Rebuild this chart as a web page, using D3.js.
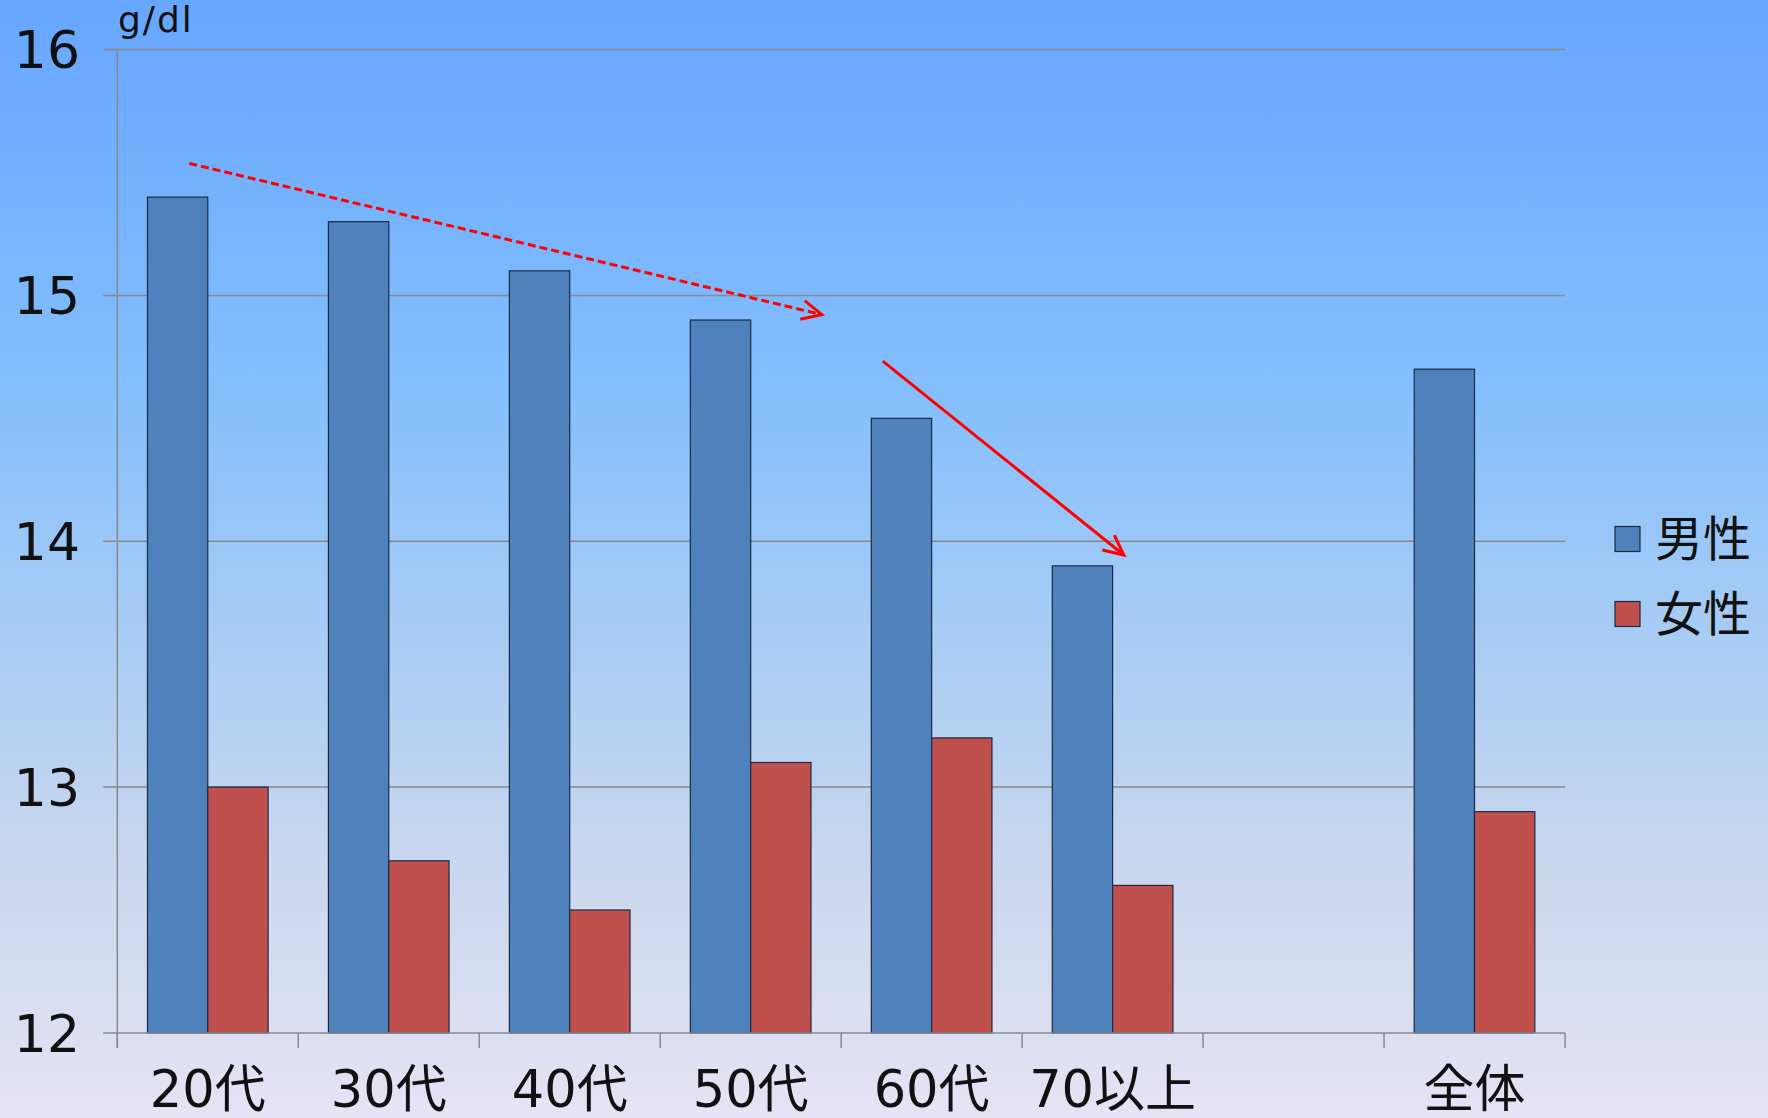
<!DOCTYPE html>
<html><head><meta charset="utf-8">
<script src="https://cdn.jsdelivr.net/npm/d3@7"></script>
<style>html,body{margin:0;padding:0;overflow:hidden;}svg{display:block;}</style>
</head><body>
<svg id="chart" width="1768" height="1118"></svg>
<script>
const categories = ["20代","30代","40代","50代","60代","70以上","","全体"];
const seriesNames = ["男性","女性"];
const maleValues   = [15.4, 15.3, 15.1, 14.9, 14.5, 13.9, null, 14.7];
const femaleValues = [13.0, 12.7, 12.5, 13.1, 13.2, 12.6, null, 12.9];
const yTicks = [12, 13, 14, 15, 16];
const unitLabel = "g/dl";
// annotation arrows in data units: [band index position, value]
const arrowDashed = [[0.398, 15.537], [3.893, 14.922]];
const arrowSolid  = [[4.23, 14.733], [5.562, 13.944]];

const colors = ["#4f81bd", "#c0504d"];
const font = "'DejaVu Sans','Noto Sans CJK JP',sans-serif";

const svg = d3.select("#chart");
const W = 1768, H = 1118;
const m = {left: 117.3, right: 1565, top: 49.6, bottom: 1032.9};

const defs = svg.append("defs");
const grad = defs.append("linearGradient").attr("id","bg").attr("x1",0).attr("y1",0).attr("x2",0).attr("y2",1);
[["0%","#66a6ff"],["35%","#84bffd"],["55%","#a5cbf5"],["75%","#c6d6ee"],["100%","#e6e3f4"]]
  .forEach(([o,c]) => grad.append("stop").attr("offset",o).attr("stop-color",c));
svg.append("rect").attr("width",W).attr("height",H).attr("fill","url(#bg)");

const x = d3.scaleBand().domain(d3.range(categories.length)).range([m.left, m.right]).padding(0);
const y = d3.scaleLinear().domain([12,16]).range([m.bottom, m.top]);
const xs = d3.scaleBand().domain([0,1]).range([0, x.bandwidth()]).paddingInner(0).paddingOuter(0.5);
const xPos = v => m.left + v * x.bandwidth();

// gridlines
svg.append("g").selectAll("line").data(yTicks.filter(t => t > 12)).join("line")
  .attr("x1", m.left - 14).attr("x2", m.right)
  .attr("y1", d => y(d)).attr("y2", d => y(d))
  .attr("stroke", "#8a8a8a").attr("stroke-width", 1.5);

// bars
const data = categories.map((c,i) => ({i, vals:[maleValues[i], femaleValues[i]]}));
const g = svg.append("g");
data.forEach(d => {
  d.vals.forEach((v,k) => {
    if (v == null) return;
    g.append("rect")
      .attr("x", x(d.i) + xs(k)).attr("width", xs.bandwidth())
      .attr("y", y(v)).attr("height", y(12) - y(v))
      .attr("fill", colors[k]).attr("stroke", "#1a2a40").attr("stroke-width", 1.2);
  });
});

// axes lines
svg.append("line").attr("x1", m.left).attr("x2", m.left).attr("y1", m.top).attr("y2", m.bottom + 15)
  .attr("stroke","#8a8a8a").attr("stroke-width",1.5);
svg.append("line").attr("x1", m.left - 14).attr("x2", m.right).attr("y1", m.bottom).attr("y2", m.bottom)
  .attr("stroke","#8a8a8a").attr("stroke-width",1.5);
svg.append("g").selectAll("line").data(d3.range(categories.length + 1)).join("line")
  .attr("x1", d => xPos(d)).attr("x2", d => xPos(d))
  .attr("y1", m.bottom).attr("y2", m.bottom + 15)
  .attr("stroke","#8a8a8a").attr("stroke-width",1.5);

// y labels
svg.append("g").selectAll("text").data(yTicks).join("text")
  .attr("x", 80).attr("y", d => y(d)).attr("dy","0.36em")
  .attr("text-anchor","end").attr("font-family",font).attr("font-size",52).attr("fill","#111")
  .text(d => d);

// x labels
svg.append("g").selectAll("text").data(categories).join("text")
  .attr("x", (d,i) => x(i) + x.bandwidth()/2).attr("y", 1107)
  .attr("text-anchor","middle").attr("font-family",font).attr("font-size",51).attr("fill","#111")
  .text(d => d);

// unit label
svg.append("text").attr("x", 118).attr("y", 32).attr("font-family",font).attr("font-size",36)
  .attr("letter-spacing",2).attr("fill","#111").text(unitLabel);

// legend
const lg = svg.append("g");
seriesNames.forEach((n,k) => {
  const cy = 539 + k*75;
  lg.append("rect").attr("x",1615).attr("y",cy-12.5).attr("width",25).attr("height",25)
    .attr("fill",colors[k]).attr("stroke","#1a2a40").attr("stroke-width",1.2);
  lg.append("text").attr("x",1655).attr("y",cy).attr("dy","0.36em")
    .attr("font-family",font).attr("font-size",48).attr("fill","#111").text(n);
});

// arrows
function arrow(pts, dashed) {
  const [p0,p1] = pts.map(([b,v]) => [xPos(b), y(v)]);
  const ag = svg.append("g").attr("stroke","#ff0000").attr("fill","none").attr("stroke-width",3);
  ag.append("line").attr("x1",p0[0]).attr("y1",p0[1]).attr("x2",p1[0]).attr("y2",p1[1])
    .attr("stroke-dasharray", dashed ? "8,4" : null);
  const ang = Math.atan2(p1[1]-p0[1], p1[0]-p0[0]);
  const L = 22, a = Math.PI/7;
  const h1 = [p1[0]-L*Math.cos(ang-a), p1[1]-L*Math.sin(ang-a)];
  const h2 = [p1[0]-L*Math.cos(ang+a), p1[1]-L*Math.sin(ang+a)];
  ag.append("path").attr("d", d3.line()([h1,p1,h2]));
}
arrow(arrowDashed, true);
arrow(arrowSolid, false);
</script>
</body></html>
